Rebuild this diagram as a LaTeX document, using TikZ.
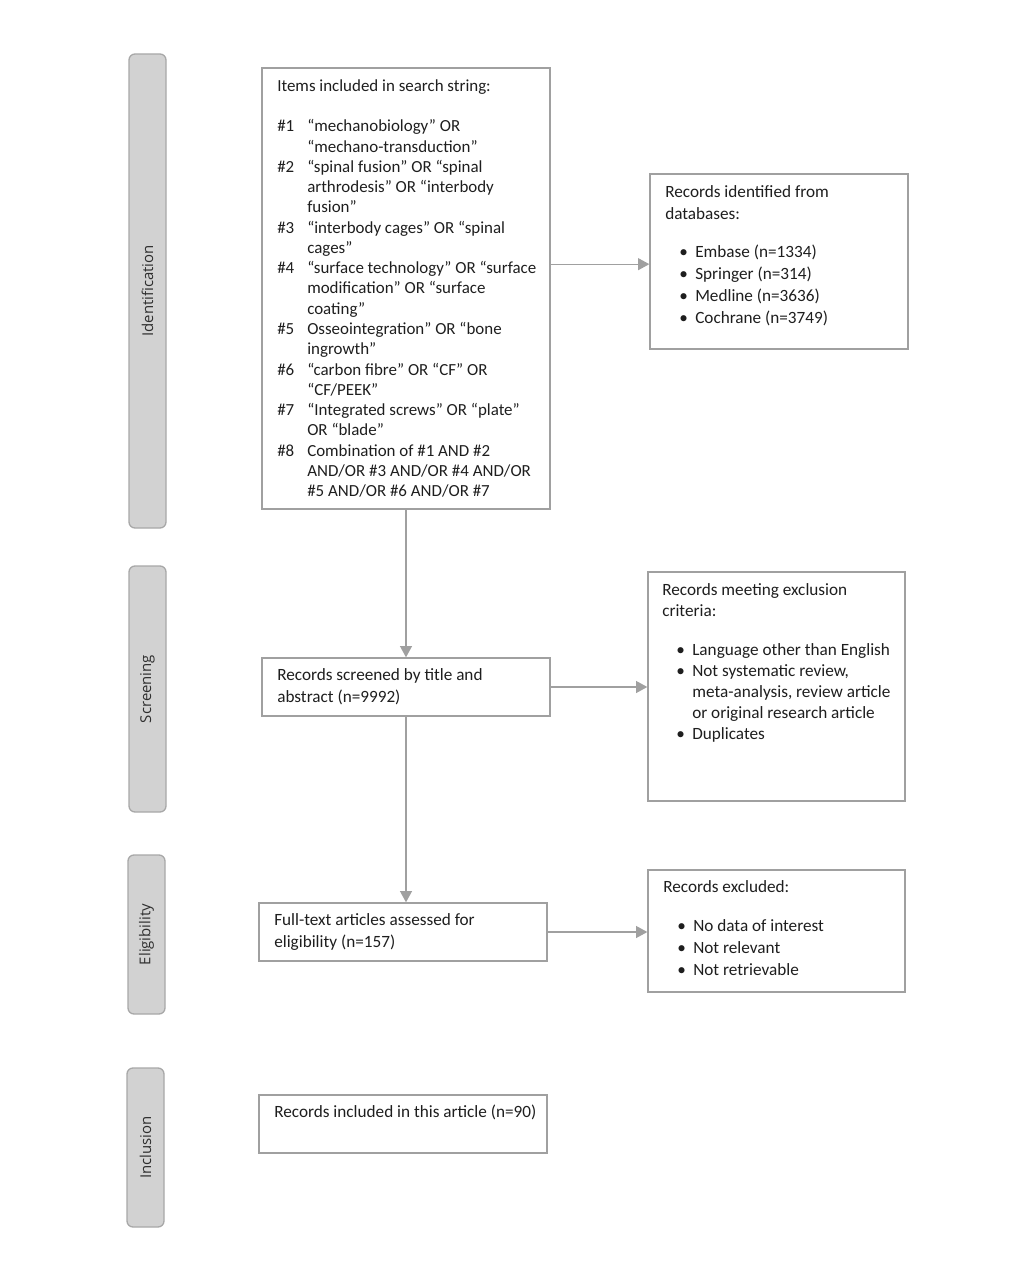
\documentclass[tikz,border=0pt]{standalone}
\usepackage{fontspec}
\setmainfont{Carlito}
\newfontfamily\labfont{Open Sans}
\usetikzlibrary{arrows.meta,fit}
\definecolor{barfill}{HTML}{D2D2D2}
\definecolor{bardraw}{HTML}{A8A8A8}
\definecolor{boxdraw}{HTML}{A0A0A0}
\definecolor{arrcol}{HTML}{A0A0A0}
\definecolor{txtcol}{HTML}{1E1E1E}
\newcommand\hn[1]{\makebox[22.5pt][l]{#1}}
\newcommand\ind{\hspace*{22.5pt}}
\newcommand\bl{\hspace*{10.5pt}\makebox[12pt][l]{•}}
\newcommand\fs{\rule{0pt}{10pt}}
\begin{document}
\begin{tikzpicture}[x=0.75pt,y=-0.75pt,
  bar/.style={draw=bardraw,fill=barfill,line width=1pt,rounded corners=4.5pt,inner sep=0pt},
  lab/.style={rotate=90,font=\labfont\fontsize{11.2}{13}\selectfont,text=black!82},
  box/.style={draw=boxdraw,line width=1pt,inner sep=0pt},
  txt/.style={anchor=north west,inner sep=0pt,align=left,text=txtcol,font=\fontsize{12.9}{16.5}\selectfont},
  arr/.style={draw=arrcol,line width=1pt,-{Triangle[length=8.5pt,width=9pt]}}]
\useasboundingbox (0,0) rectangle (1031,1280);
% phase bars
\node[bar,fit={(129,54)(166,528)}] (bid) {};
\node[lab] (lid) at (bid.center) {Identification};
\node[bar,fit={(129,566)(166,812)}] (bsc) {};
\node[lab] (lsc) at (bsc.center) {Screening};
\node[bar,fit={(128,855)(165,1014)}] (bel) {};
\node[lab] (lel) at (bel.center) {Eligibility};
\node[bar,fit={(127,1068)(164,1227)}] (bin) {};
\node[lab] (lin) at (bin.center) {Inclusion};
% boxes
\node[box,fit={(262,68)(550,509)}] (search) {};
\node[box,fit={(650,174)(908,349)}] (recid) {};
\node[box,fit={(262,658)(550,716)}] (screen) {};
\node[box,fit={(648,572)(905,801)}] (excl) {};
\node[box,fit={(259,903)(547,961)}] (full) {};
\node[box,fit={(648,870)(905,992)}] (exc2) {};
\node[box,fit={(259,1095)(547,1153)}] (incl) {};
% texts (anchor = first baseline minus 13.33px)
\node[txt,font=\fontsize{12.7}{15.2}\selectfont] (searchtxt) at (277,77.7) {\fs Items included in search string:\\[15.2pt]
\hn{\#1}“mechanobiology” OR\\
\ind“mechano-transduction”\\
\hn{\#2}“spinal fusion” OR “spinal\\
\ind arthrodesis” OR “interbody\\
\ind fusion”\\
\hn{\#3}“interbody cages” OR “spinal\\
\ind cages”\\
\hn{\#4}“surface technology” OR “surface\\
\ind modification” OR “surface\\
\ind coating”\\
\hn{\#5}Osseointegration” OR “bone\\
\ind ingrowth”\\
\hn{\#6}“carbon fibre” OR “CF” OR\\
\ind“CF/PEEK”\\
\hn{\#7}“Integrated screws” OR “plate”\\
\ind OR “blade”\\
\hn{\#8}Combination of \#1 AND \#2\\
\ind AND/OR \#3 AND/OR \#4 AND/OR\\
\ind\#5 AND/OR \#6 AND/OR \#7};
\node[txt] (recidtxt) at (665,183.7) {\fs Records identified from\\
databases:\\[12pt]
\bl Embase (n=1334)\\
\bl Springer (n=314)\\
\bl Medline (n=3636)\\
\bl Cochrane (n=3749)};
\node[txt] (screentxt) at (277,666.7) {\fs Records screened by title and\\abstract (n=9992)};
\node[txt,font=\fontsize{12.9}{15.9}\selectfont] (excltxt) at (662,581.7) {\fs Records meeting exclusion\\
criteria:\\[13pt]
\bl Language other than English\\
\bl Not systematic review,\\
\ind meta-analysis, review article\\
\ind or original research article\\
\bl Duplicates};
\node[txt] (fulltxt) at (274,911.7) {\fs Full-text articles assessed for\\eligibility (n=157)};
\node[txt] (exc2txt) at (663,878.7) {\fs Records excluded:\\[13pt]
\bl No data of interest\\
\bl Not relevant\\
\bl Not retrievable};
\node[txt] (incltxt) at (274,1103.7) {\fs Records included in this article (n=90)};
% connectors
\draw[arr] ([yshift=-2pt]search.east |- recid.west) -- ([yshift=-2pt]recid.west);
\draw[arr] (search.south) -- (screen.north);
\draw[arr] (screen.east) -- (screen.east -| excl.west);
\draw[arr] (screen.south) -- (screen.south |- full.north);
\draw[arr] (full.east) -- (full.east -| exc2.west);
\end{tikzpicture}
\end{document}
